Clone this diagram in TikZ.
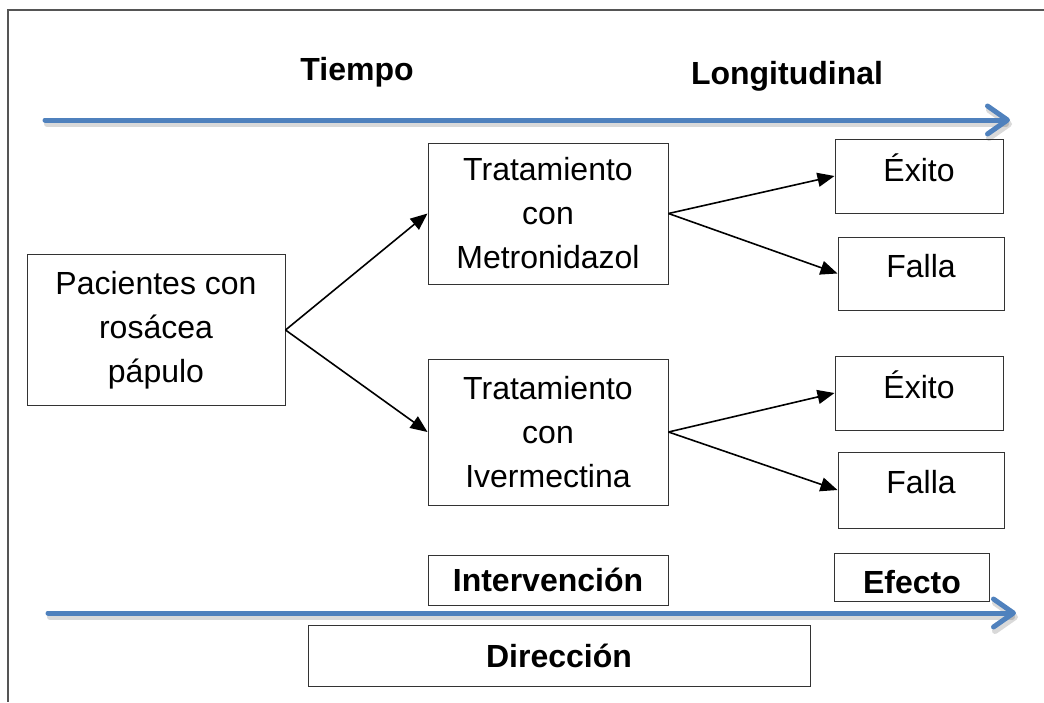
\documentclass[tikz,border=0pt]{standalone}
\usepackage{fontspec}
\setmainfont{Liberation Sans}
\usepackage{xcolor}
\usetikzlibrary{arrows.meta, positioning}
\definecolor{azulflecha}{HTML}{4F81BD}
\definecolor{marco}{HTML}{555555}

\begin{document}
\begin{tikzpicture}[x=1pt, y=-1pt,
    caja/.style={draw=black!80, line width=1pt, align=center, inner sep=0pt,
        font=\fontsize{32}{44}\selectfont},
    titulo/.style={font=\bfseries\fontsize{32}{44}\selectfont},
    arriba/.style={text depth=16pt},
    flecha/.style={-{Triangle[length=17pt,width=14pt]}, line width=1.6pt},
    eje/.style={-{Straight Barb[length=20pt,width=28pt,round]}, line width=5pt, azulflecha, line cap=round},
    sombra/.style={-{Straight Barb[length=20pt,width=28pt,round]}, line width=6pt, black, opacity=0.15, line cap=round}]
    \useasboundingbox (0,0) rectangle (1044,702);

    % marco
    \draw[marco, line width=1.5pt] (1044,10) -- (8,10) -- (8,702);

    % ejes de tiempo
    \coordinate (t0) at (45,120);
    \coordinate (t1) at (1010,120);
    \coordinate (d0) at (48,613);
    \coordinate (d1) at (1016,613);
    \draw[sombra] ([shift={(2,4)}]t0) -- ([shift={(2,4)}]t1);
    \draw[eje] (t0) -- (t1);
    \draw[sombra] ([shift={(2,4)}]d0) -- ([shift={(2,4)}]d1);
    \draw[eje] (d0) -- (d1);

    \node[titulo] (tiempo) at (357,72) {Tiempo};
    \node[titulo] (longit) at (787,76) {Longitudinal};

    % cajas
    \node[caja, minimum width=258pt, minimum height=151pt] (pac) at (156,330) {Pacientes con\\rosácea\\pápulo};
    \node[caja, minimum width=240pt, minimum height=141pt] (met) at (548,213.5) {Tratamiento\\con\\Metronidazol};
    \node[caja, minimum width=240pt, minimum height=146pt] (iver) at (548,432) {Tratamiento\\con\\Ivermectina};

    \node[caja, arriba, minimum width=168pt, minimum height=74pt] (exito1) at (919,176) {Éxito};
    \node[caja, arriba, minimum width=166pt, minimum height=73pt] (falla1) at (921,273.5) {Falla};
    \node[caja, arriba, minimum width=168pt, minimum height=74pt] (exito2) at (919,393) {Éxito};
    \node[caja, arriba, minimum width=166pt, minimum height=76pt] (falla2) at (921,490) {Falla};

    % etiquetas inferiores
    \node[caja, titulo, minimum width=240pt, minimum height=50pt] (interv) at (548,580) {Intervención};
    \node[caja, titulo, minimum width=155pt, minimum height=48pt, text height=34pt] (efecto) at (912,577) {Efecto};
    \node[caja, titulo, minimum width=502pt, minimum height=61pt] (direc) at (559,655.5) {Dirección};

    % conexiones
    \draw[flecha] (pac.east) -- (met.west);
    \draw[flecha] (pac.east) -- (iver.west);
    \draw[flecha] (met.east) -- (exito1.west);
    \draw[flecha] (met.east) -- (falla1.west);
    \draw[flecha] (iver.east) -- (exito2.west);
    \draw[flecha] (iver.east) -- (falla2.west);
\end{tikzpicture}
\end{document}
